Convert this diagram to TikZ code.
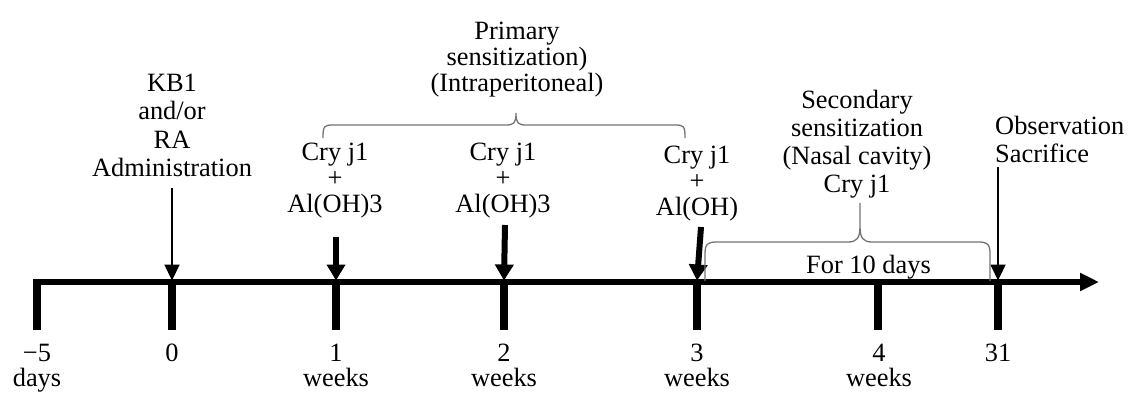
\documentclass[tikz,border=0pt]{standalone}
\usepackage{fontspec}
\setmainfont{Liberation Serif}
\usetikzlibrary{arrows.meta}
\begin{document}
\begin{tikzpicture}[x=1pt,y=-1pt,
  txt/.style={inner sep=0pt, align=center, font=\fontsize{26.4}{28}\selectfont},
  lbl/.style={txt, font=\fontsize{26.4}{25}\selectfont},
  drug/.style={txt, font=\fontsize{26.4}{26}\selectfont},
  axisline/.style={line width=5.5pt, -{Triangle[length=19pt,width=17pt]}},
  tickmark/.style={line width=7.3pt},
  thinarrow/.style={line width=2.2pt, -{Triangle[length=16pt,width=15pt]}},
  thickarrow/.style={line width=6pt, -{Triangle[length=16pt,width=18pt]}},
  bracket/.style={draw=black!55, line width=1.3pt}]
\useasboundingbox (0,0) rectangle (1131,394);

% time axis
\coordinate (axstart) at (33.35,282);
\coordinate (axend) at (1099,282);
\draw[axisline] (axstart) -- (axend);
\foreach \n/\x in {m5/37,w0/172,w1/336,w2/504,w3/697,w4/878,d31/998}{
  \coordinate (t\n) at (\x,280.5);
  \coordinate (b\n) at (\x,330);
  \draw[tickmark] ([yshift=1.25pt]t\n) -- (b\n);
}

% axis labels
\node[lbl] (lm5) at (37,368.3) {−5\\days};
\node[lbl] (l0) at (172,353.3) {0};
\node[lbl] (l1) at (336,365.8) {1\\weeks};
\node[lbl] (l2) at (504,365.8) {2\\weeks};
\node[lbl] (l3) at (697,365.8) {3\\weeks};
\node[lbl] (l4) at (879,365.8) {4\\weeks};
\node[lbl] (l31) at (998,353.3) {31};

% upper texts
\node[txt, font=\fontsize{26.4}{28.3}\selectfont] (kb) at (172,125.3) {KB1\\and/or\\RA\\Administration};
\node[drug] (p1) at (335,181) {Cry j1\\+\\Al(OH)3};
\node[drug] (p2) at (503,180.8) {Cry j1\\+\\Al(OH)3};
\node[drug] (p3) at (697,184) {Cry j1\\+\\Al(OH)};
\node[txt, font=\fontsize{26.4}{26.1}\selectfont] (prim) at (517,59.6) {Primary\\sensitization)\\(Intraperitoneal)};
\node[txt, font=\fontsize{26.4}{27.8}\selectfont] (sec) at (857,144) {Secondary\\sensitization\\(Nasal cavity)\\Cry j1};
\node[txt, align=left, anchor=west, font=\fontsize{26.4}{28.4}\selectfont] (obs) at (995,139.2) {Observation\\Sacrifice};
\node[txt] (ften) at (868.5,267.5) {For 10 days};

% arrows
\coordinate (a0) at (172,188);
\coordinate (a1) at (336,237);
\coordinate (a2) at (505,225);
\coordinate (a3) at (701,227);
\coordinate (a31) at (998,167);
\draw[thinarrow] (a0) -- (tw0);
\draw[thickarrow] (a1) -- (tw1);
\draw[thickarrow] (a2) -- (tw2);
\draw[thickarrow] (a3) -- (tw3);
\draw[thinarrow] (a31) -- (td31);

% primary brace
\draw[bracket] (323,138) .. controls (323,126) and (324,125) .. (333,125)
  -- (506,125) .. controls (514,125) and (516,123) .. (516,113)
  .. controls (516,123) and (518,125) .. (526,125)
  -- (675,125) .. controls (684,125) and (685,126) .. (685,138);

% secondary brace
\draw[bracket] (705,281) -- (705,255) .. controls (705,244) and (707,242) .. (717,242)
  -- (848,242) .. controls (857,242) and (860,238) .. (860,226) -- (860,203)
  -- (860,226) .. controls (860,238) and (863,242) .. (872,242)
  -- (978,242) .. controls (988,242) and (990,244) .. (990,255) -- (990,281);
\end{tikzpicture}
\end{document}
